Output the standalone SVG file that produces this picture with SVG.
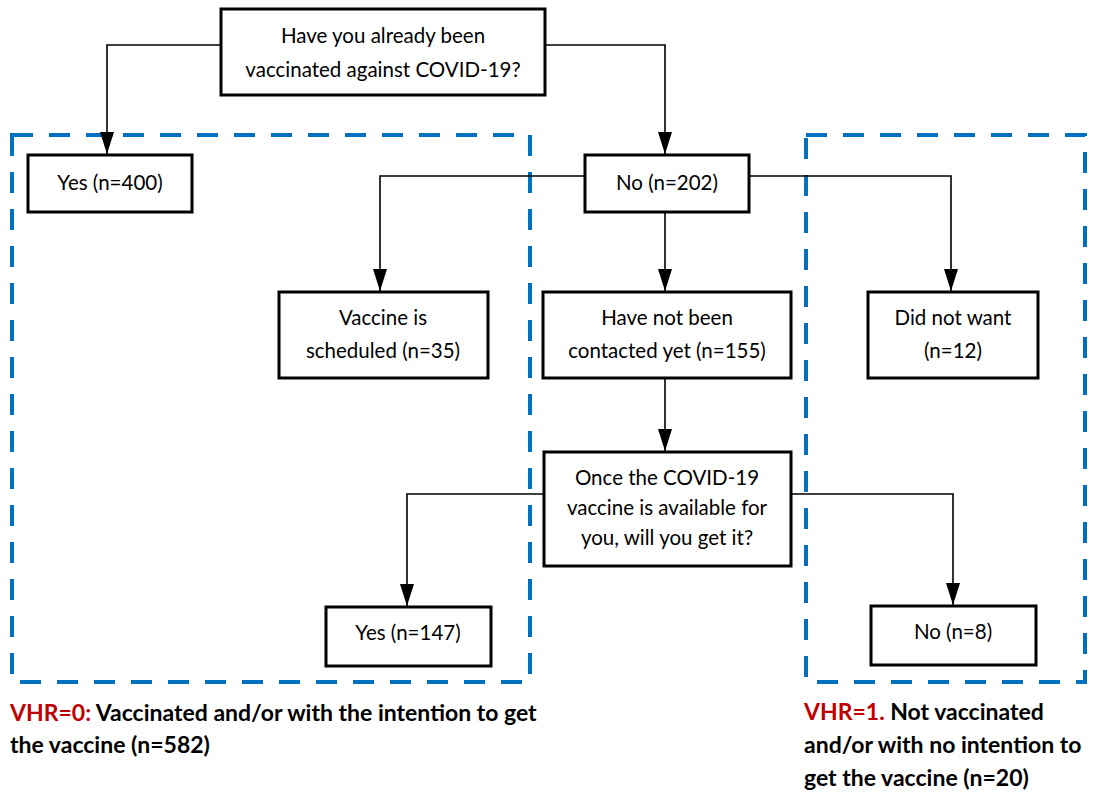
<svg xmlns="http://www.w3.org/2000/svg" width="1095" height="792" viewBox="0 0 1095 792">
<style>
.box{fill:#fff;stroke:#000;stroke-width:3}
.t{font-family:Lato,"Liberation Sans",sans-serif;font-size:20.5px;fill:#000;text-anchor:middle}
.c{fill:none;stroke:#000;stroke-width:1.6}
.d{fill:none;stroke:#0070C0;stroke-width:4;stroke-dasharray:21 16}
.lab{font-family:Lato,"Liberation Sans",sans-serif;font-size:23px;font-weight:bold;fill:#000}
.red{fill:#C00000}
</style>
<defs>
<marker id="ah" markerUnits="userSpaceOnUse" markerWidth="24" markerHeight="14" refX="22" refY="7" orient="auto" viewBox="0 0 24 14">
<path d="M0,0 L22,7 L0,14 Z" fill="#000"/>
</marker>
</defs>
<rect width="1095" height="792" fill="#fff"/>
<g id="regions">
<rect class="d" x="12" y="135" width="518" height="547"/>
<rect class="d" x="806" y="135" width="279" height="547"/>
</g>
<g id="connectors">
<path class="c" d="M221,45 H107 V154" marker-end="url(#ah)"/>
<path class="c" d="M545,45 H665 V154" marker-end="url(#ah)"/>
<path class="c" d="M585,176 H380 V291" marker-end="url(#ah)"/>
<path class="c" d="M749,176 H951 V291" marker-end="url(#ah)"/>
<path class="c" d="M665,212 V291" marker-end="url(#ah)"/>
<path class="c" d="M665,378 V451" marker-end="url(#ah)"/>
<path class="c" d="M544,494 H407 V606" marker-end="url(#ah)"/>
<path class="c" d="M791,494 H953 V605" marker-end="url(#ah)"/>
</g>
<g id="q1">
<rect class="box" x="221" y="9" width="324" height="86"/>
<text class="t" x="383" y="43">Have you already been</text>
<text class="t" x="383" y="77">vaccinated against COVID-19?</text>
</g>
<g id="yes400">
<rect class="box" x="28" y="155" width="164" height="57"/>
<text class="t" x="110" y="190">Yes (n=400)</text>
</g>
<g id="no202">
<rect class="box" x="585" y="155" width="164" height="57"/>
<text class="t" x="667" y="190">No (n=202)</text>
</g>
<g id="scheduled">
<rect class="box" x="279" y="292" width="209" height="86"/>
<text class="t" x="383" y="325">Vaccine is</text>
<text class="t" x="383" y="358">scheduled (n=35)</text>
</g>
<g id="notcontacted">
<rect class="box" x="543" y="292" width="248" height="86"/>
<text class="t" x="667" y="325">Have not been</text>
<text class="t" x="667" y="358">contacted yet (n=155)</text>
</g>
<g id="didnotwant">
<rect class="box" x="868" y="292" width="170" height="86"/>
<text class="t" x="953" y="325">Did not want</text>
<text class="t" x="953" y="358">(n=12)</text>
</g>
<g id="q2">
<rect class="box" x="544" y="452" width="247" height="114"/>
<text class="t" x="667" y="485">Once the COVID-19</text>
<text class="t" x="667" y="515">vaccine is available for</text>
<text class="t" x="667" y="545">you, will you get it?</text>
</g>
<g id="yes147">
<rect class="box" x="326" y="607" width="165" height="59"/>
<text class="t" x="408" y="640">Yes (n=147)</text>
</g>
<g id="no8">
<rect class="box" x="871" y="606" width="165" height="59"/>
<text class="t" x="953" y="639">No (n=8)</text>
</g>
<g id="label0">
<text class="lab" x="10" y="721"><tspan class="red">VHR=0:</tspan> Vaccinated and/or with the intention to get</text>
<text class="lab" x="10" y="753">the vaccine (n=582)</text>
</g>
<g id="label1">
<text class="lab" x="804" y="720"><tspan class="red">VHR=1.</tspan> Not vaccinated</text>
<text class="lab" x="804" y="753">and/or with no intention to</text>
<text class="lab" x="804" y="786">get the vaccine (n=20)</text>
</g>
</svg>
